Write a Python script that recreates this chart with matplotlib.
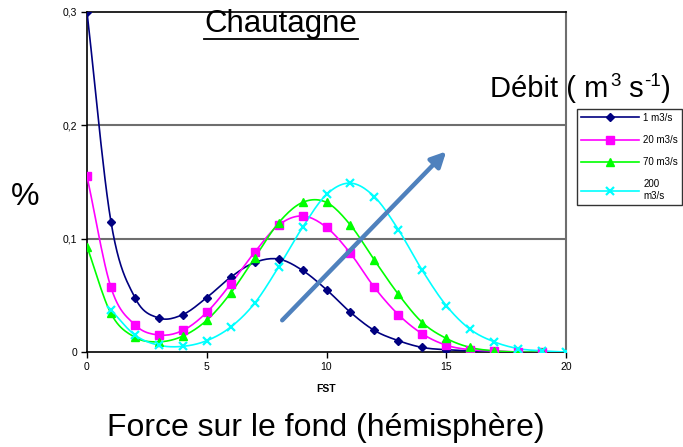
import matplotlib
matplotlib.use("Agg")
import matplotlib.pyplot as plt
import numpy as np

plt.rcParams["font.family"] = ["Liberation Sans", "DejaVu Sans"]

# FST classes (hemisphere) and frequency per discharge
fst = list(range(0, 21))

debit_1 = [0.300, 0.115, 0.048, 0.030, 0.033, 0.048, 0.066, 0.079, 0.082, 0.072,
           0.055, 0.035, 0.019, 0.010, 0.004, 0.002, 0.001, 0.000, 0.000, 0.000]
debit_20 = [0.155, 0.057, 0.024, 0.015, 0.019, 0.035, 0.060, 0.088, 0.112, 0.120,
            0.110, 0.087, 0.057, 0.033, 0.016, 0.006, 0.002, 0.001, 0.000, 0.000]
debit_70 = [0.093, 0.034, 0.013, 0.009, 0.014, 0.028, 0.052, 0.083, 0.114, 0.132,
            0.132, 0.112, 0.081, 0.051, 0.026, 0.012, 0.004, 0.001, 0.000, 0.000]
# 200 m3/s starts at FST = 1
debit_200 = [0.037, 0.015, 0.006, 0.005, 0.010, 0.022, 0.043, 0.075, 0.110, 0.139,
             0.149, 0.137, 0.108, 0.072, 0.041, 0.020, 0.009, 0.003, 0.001, 0.000]

labels = ["1 m3/s", "20 m3/s", "70 m3/s", "200\nm3/s"]
colors = ["#000080", "#FF00FF", "#00FF00", "#00FFFF"]
markers = ["D", "s", "^", "x"]
marker_sizes = [4, 6, 6, 6]

x_ticks = [0, 5, 10, 15, 20]
y_ticks = [0, 0.1, 0.2, 0.3]
y_tick_labels = ["0", "0,1", "0,2", "0,3"]


def smooth(x, y, n=12):
    # Catmull-Rom spline through the points, like Excel's smoothed lines
    x = np.asarray(x, float)
    y = np.asarray(y, float)
    px = np.concatenate([[2 * x[0] - x[1]], x, [2 * x[-1] - x[-2]]])
    py = np.concatenate([[2 * y[0] - y[1]], y, [2 * y[-1] - y[-2]]])
    t = np.linspace(0, 1, n, endpoint=False)
    xs, ys = [], []
    for i in range(1, len(px) - 2):
        for p, out in ((px, xs), (py, ys)):
            p0, p1, p2, p3 = p[i - 1], p[i], p[i + 1], p[i + 2]
            out.extend(0.5 * (2 * p1 + (-p0 + p2) * t
                              + (2 * p0 - 5 * p1 + 4 * p2 - p3) * t ** 2
                              + (-p0 + 3 * p1 - 3 * p2 + p3) * t ** 3))
    xs.append(x[-1])
    ys.append(y[-1])
    return np.array(xs), np.array(ys)


fig = plt.figure(figsize=(6.83, 4.47), dpi=100)
ax = fig.add_axes([87 / 683, 95 / 447, 479 / 683, 340 / 447])

series = [
    (fst[:20], debit_1),
    (fst[:20], debit_20),
    (fst[:20], debit_70),
    (fst[1:], debit_200),
]

handles = []
for (xv, yv), lab, col, mk, ms in zip(series, labels, colors, markers, marker_sizes):
    sx, sy = smooth(xv, yv)
    ax.plot(sx, sy, color=col, lw=1.2, zorder=3)
    ax.plot(xv, yv, linestyle="none", marker=mk, color=col, ms=ms,
            mew=1.6 if mk == "x" else 1, zorder=4)
    h, = ax.plot([], [], color=col, lw=1.2, marker=mk, ms=ms,
                 mew=1.6 if mk == "x" else 1)
    handles.append(h)

ax.set_xlim(0, 20)
ax.set_ylim(0, 0.3)
ax.set_xticks(x_ticks)
ax.set_yticks(y_ticks)
ax.set_yticklabels(y_tick_labels)
ax.tick_params(labelsize=7.5, length=4, width=1, direction="out", pad=3)

for y in [0.1, 0.2]:
    ax.axhline(y, color="#6e6e6e", lw=1.5, zorder=1)

for side in ["left", "bottom", "top"]:
    ax.spines[side].set_color("black")
    ax.spines[side].set_linewidth(1.2)
ax.spines["right"].set_color("#6e6e6e")
ax.spines["right"].set_linewidth(1.5)

# direction of increasing discharge
ax.annotate("", xy=(15.0, 0.177), xytext=(8.15, 0.028),
            arrowprops=dict(arrowstyle="-|>,head_length=0.9,head_width=0.45",
                            color="#4f81bd", lw=3.2, shrinkA=0, shrinkB=0),
            zorder=5)

ax.set_xlabel("FST", fontsize=7.5, fontweight="bold", labelpad=9)

fig.text(281 / 683, 1 - 24 / 447, "Chautagne", fontsize=22.5, ha="center",
         va="center")
fig.add_artist(plt.Line2D([204 / 683, 358 / 683], [1 - 39 / 447, 1 - 39 / 447],
                          color="black", lw=1.3))

# "Débit ( m3 s-1)" with raised exponents, built piece by piece
t_main = fig.text(490 / 683, 1 - 97 / 447, "Débit ( m", fontsize=21,
                  ha="left", va="baseline")
t_exp1 = ax.annotate("3", xy=(1, 1), xycoords=t_main, xytext=(1.5, 1.5),
                     textcoords="offset points", fontsize=13.5, ha="left",
                     va="top", annotation_clip=False)
t_s = ax.annotate(" s", xy=(1, 0), xycoords=(t_exp1, t_main), fontsize=21,
                  ha="left", va="bottom", annotation_clip=False)
t_exp2 = ax.annotate("-1", xy=(1, 1), xycoords=(t_s, t_main), xytext=(0.5, 1.5),
                     textcoords="offset points", fontsize=13.5, ha="left",
                     va="top", annotation_clip=False)
ax.annotate(")", xy=(1, 0), xycoords=(t_exp2, t_main), fontsize=21,
            ha="left", va="bottom", annotation_clip=False)

fig.text(25 / 683, 1 - 197 / 447, "%", fontsize=23, ha="center", va="center")
fig.text(326 / 683, 1 - 428 / 447, "Force sur le fond (hémisphère)", fontsize=23,
         ha="center", va="center")

leg = fig.legend(handles=handles, labels=labels, loc="upper left",
                 bbox_to_anchor=(577 / 683, 1 - 109 / 447), fontsize=7,
                 frameon=True, fancybox=False, edgecolor="black",
                 handlelength=6.0, handletextpad=0.4, borderpad=0.4,
                 labelspacing=1.25, borderaxespad=0)
leg.get_frame().set_linewidth(1.0)

fig.savefig("out.png", dpi=100)
